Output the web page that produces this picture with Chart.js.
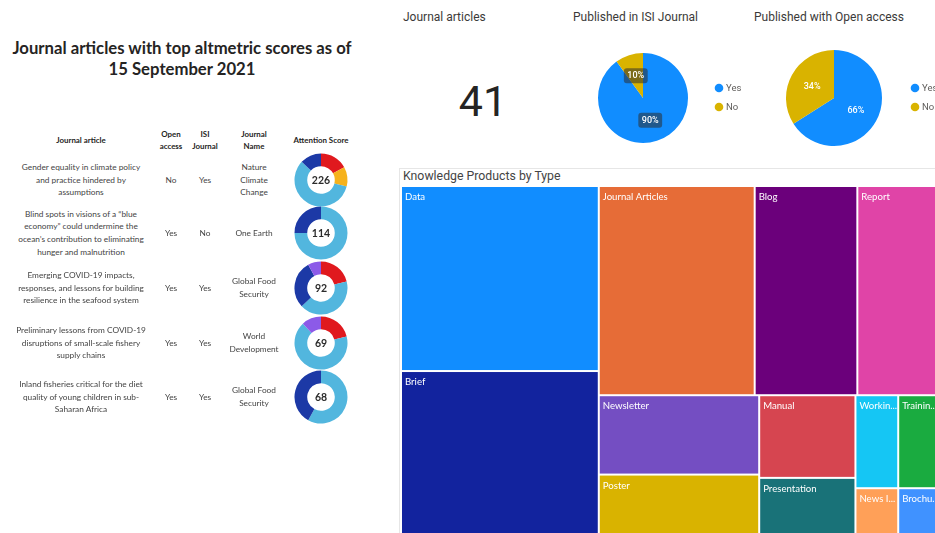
<!DOCTYPE html>
<html><head><meta charset="utf-8">
<script src="https://cdn.jsdelivr.net/npm/chart.js@4.4.0/dist/chart.umd.min.js"></script>
<style>
html,body{margin:0;padding:0;background:#fff;}
body{width:935px;height:533px;overflow:hidden;position:relative;font-family:Lato,"Open Sans",sans-serif;}
.abs{position:absolute;}
.cell{position:absolute;display:flex;align-items:center;justify-content:center;text-align:center;white-space:pre-line;color:#444444;font-size:8.3px;line-height:12.6px;}
.hdr{position:absolute;display:flex;align-items:center;justify-content:center;text-align:center;white-space:pre-line;color:#252423;font-size:7.9px;font-weight:700;line-height:12.5px;}
.ttl{position:absolute;font-family:Roboto,sans-serif;font-size:12px;color:#3b3a39;white-space:nowrap;}
canvas{position:absolute;}
</style></head><body>
<script>
// ---------------- DATA ----------------
const reportTitle = ["Journal articles with top altmetric scores as of", "15 September 2021"];
const tableHeaders = ["Journal article", "Open\naccess", "ISI\nJournal", "Journal\nName", "Attention Score"];
const articleTitles = [
  "Gender equality in climate policy\nand practice hindered by\nassumptions",
  "Blind spots in visions of a \u201cblue\neconomy\u201d could undermine the\nocean\u2019s contribution to eliminating\nhunger and malnutrition",
  "Emerging COVID-19 impacts,\nresponses, and lessons for building\nresilience in the seafood system",
  "Preliminary lessons from COVID-19\ndisruptions of small-scale fishery\nsupply chains",
  "Inland fisheries critical for the diet\nquality of young children in sub-\nSaharan Africa"
];
const openAccess = ["No", "Yes", "Yes", "Yes", "Yes"];
const isiJournal = ["Yes", "No", "Yes", "Yes", "Yes"];
const journalNames = ["Nature\nClimate\nChange", "One Earth", "Global Food\nSecurity", "World\nDevelopment", "Global Food\nSecurity"];
const attentionScores = [226, 114, 92, 69, 68];
// altmetric donut: share of ring per source (clockwise from 12 o'clock)
const sourceNames = ["News", "Blogs", "Twitter", "Facebook", "Policy"];
const newsShare     = [17, 0, 21, 21, 0];
const blogShare     = [12, 0, 0, 0, 0];
const twitterShare  = [58, 75, 42, 67, 58];
const facebookShare = [13, 25, 29, 0, 42];
const policyShare   = [0, 0, 8, 12, 0];

const kpiLabel = "Journal articles";
const kpiValue = 41;
const yesNoLabels = ["Yes", "No"];
const isiTitle = "Published in ISI Journal";
const isiPercent = [90, 10];
const oaTitle = "Published with Open access";
const oaPercent = [66, 34];

const treemapTitle = "Knowledge Products by Type";
const kpTypes = ["Data", "Brief", "Journal Articles", "Blog", "Report", "Newsletter", "Poster", "Manual", "Presentation", "Working Paper", "Training Material", "News Item", "Brochure"];
const kpCounts = [46, 43, 41, 27, 22, 16, 14, 10, 8, 5, 5, 3, 3];

// ---------------- STYLE ----------------
const srcColors = ["#e0191e", "#f6b21c", "#52b6de", "#1c39a6", "#8c5ae8"];
const yesNoColors = ["#118DFF", "#D9B300"];
const kpColors = ["#118DFF", "#12239E", "#E66C37", "#6B007B", "#E044A7", "#744EC2", "#D9B300", "#D64550", "#197278", "#15C6F4", "#1AAB40", "#FFA058", "#4092FF"];

function el(tag, cls, style, text) {
  const e = document.createElement(tag);
  if (cls) e.className = cls;
  Object.assign(e.style, style || {});
  if (text !== undefined) e.textContent = text;
  document.body.appendChild(e);
  return e;
}

// ---------------- LEFT PANEL ----------------
el('div', 'abs', {left: '0px', top: '38px', width: '364px', textAlign: 'center', fontFamily: 'Lato,sans-serif', fontWeight: '700', fontSize: '16.7px', lineHeight: '21px', color: '#252423', whiteSpace: 'pre-line'}, reportTitle.join('\n'));

const colX = [81, 171, 205, 254, 321];
const colW = [160, 40, 36, 64, 80];
tableHeaders.forEach((h, i) => {
  el('div', 'hdr', {left: (colX[i] - colW[i] / 2) + 'px', top: '125px', width: colW[i] + 'px', height: '30px'}, h);
});
const rowY = [180, 233, 288, 343, 397];
const centerTextPlugin = {
  id: 'centerText',
  afterDraw(chart, args, opts) {
    const ctx = chart.ctx, a = chart.chartArea;
    ctx.save();
    ctx.fillStyle = '#2b2b2b';
    ctx.font = 'bold 10.5px Lato';
    ctx.textAlign = 'center'; ctx.textBaseline = 'middle';
    ctx.fillText(String(opts.text), (a.left + a.right) / 2, (a.top + a.bottom) / 2 + 0.5);
    ctx.restore();
  }
};
articleTitles.forEach((t, r) => {
  const y = rowY[r];
  const cols = [t, openAccess[r], isiJournal[r], journalNames[r]];
  cols.forEach((c, i) => {
    el('div', 'cell', {left: (colX[i] - colW[i] / 2) + 'px', top: (y - 30) + 'px', width: colW[i] + 'px', height: '60px'}, c);
  });
  const cv = el('canvas', null, {left: (colX[4] - 28) + 'px', top: (y - 28) + 'px'});
  cv.width = 56; cv.height = 56;
  new Chart(cv, {
    type: 'doughnut',
    data: {labels: sourceNames, datasets: [{data: [newsShare[r], blogShare[r], twitterShare[r], facebookShare[r], policyShare[r]], backgroundColor: srcColors, borderWidth: 0}]},
    options: {responsive: false, animation: false, cutout: '52%', layout: {padding: 1.5},
      plugins: {legend: {display: false}, tooltip: {enabled: false}, centerText: {text: attentionScores[r]}}},
    plugins: [centerTextPlugin]
  });
});

// ---------------- KPI + PIES ----------------
el('div', 'ttl', {left: '403px', top: '10px'}, kpiLabel);
el('div', 'abs', {left: '433px', top: '73px', width: '100px', textAlign: 'center', fontFamily: 'Roboto,sans-serif', fontWeight: '400', fontSize: '43px', lineHeight: '56px', color: '#252423'}, String(kpiValue));
el('div', 'ttl', {left: '573px', top: '10px'}, isiTitle);
el('div', 'ttl', {left: '754px', top: '10px'}, oaTitle);

function roundRect(ctx, x, y, w, h, r) {
  ctx.beginPath();
  ctx.moveTo(x + r, y); ctx.lineTo(x + w - r, y); ctx.quadraticCurveTo(x + w, y, x + w, y + r);
  ctx.lineTo(x + w, y + h - r); ctx.quadraticCurveTo(x + w, y + h, x + w - r, y + h);
  ctx.lineTo(x + r, y + h); ctx.quadraticCurveTo(x, y + h, x, y + h - r);
  ctx.lineTo(x, y + r); ctx.quadraticCurveTo(x, y, x + r, y); ctx.closePath();
}
const pieLabelPlugin = {
  id: 'pieLabels',
  afterDatasetsDraw(chart, args, opts) {
    const ctx = chart.ctx, meta = chart.getDatasetMeta(0), vals = chart.data.datasets[0].data;
    ctx.save();
    ctx.font = '500 9px Roboto'; ctx.textAlign = 'center'; ctx.textBaseline = 'middle';
    meta.data.forEach((arc, i) => {
      const mid = (arc.startAngle + arc.endAngle) / 2, rr = arc.outerRadius * opts.pos;
      const x = arc.x + Math.cos(mid) * rr, y = arc.y + Math.sin(mid) * rr;
      const t = vals[i] + '%';
      if (opts.bg) {
        const w = ctx.measureText(t).width + 7;
        ctx.fillStyle = opts.bg; roundRect(ctx, x - w / 2, y - 7.5, w, 15, 3); ctx.fill();
      }
      ctx.fillStyle = '#ffffff'; ctx.fillText(t, x, y + 0.5);
    });
    ctx.restore();
  }
};
const sideLegendPlugin = {
  id: 'sideLegend',
  afterDraw(chart, args, opts) {
    const ctx = chart.ctx, cols = chart.data.datasets[0].backgroundColor;
    ctx.save();
    chart.data.labels.forEach((l, i) => {
      const y = opts.y + i * opts.gap;
      ctx.fillStyle = cols[i]; ctx.beginPath(); ctx.arc(opts.x, y, 4.3, 0, Math.PI * 2); ctx.fill();
      ctx.fillStyle = '#605E5C'; ctx.font = '9.5px Roboto'; ctx.textBaseline = 'middle'; ctx.textAlign = 'left';
      ctx.fillText(l, opts.x + 7, y + 0.5);
    });
    ctx.restore();
  }
};
function makePie(left, top, w, h, pad, values, legend, bg) {
  const cv = el('canvas', null, {left: left + 'px', top: top + 'px'});
  cv.width = w; cv.height = h;
  new Chart(cv, {
    type: 'pie',
    data: {labels: yesNoLabels, datasets: [{data: values, backgroundColor: yesNoColors, borderWidth: 0}]},
    options: {responsive: false, animation: false, layout: {padding: pad},
      plugins: {legend: {display: false}, tooltip: {enabled: false}, pieLabels: {pos: 0.52, bg: bg}, sideLegend: legend}},
    plugins: [pieLabelPlugin, sideLegendPlugin]
  });
}
makePie(590, 45, 170, 110, {left: 7, right: 71, top: 8, bottom: 12}, isiPercent, {x: 129, y: 43, gap: 19}, 'rgba(45,45,45,0.55)');
makePie(780, 45, 170, 110, {left: 6, right: 68, top: 5, bottom: 9}, oaPercent, {x: 135, y: 43, gap: 19}, null);

// ---------------- TREEMAP ----------------
el('div', 'abs', {left: '399px', top: '168px', width: '600px', height: '400px', borderTop: '1px solid #e6e6e6', borderLeft: '1px solid #e6e6e6'});
el('div', 'ttl', {left: '403px', top: '169px', fontSize: '12.3px', color: '#444'}, treemapTitle);

function squarify(values, x0, y0, x1, y1, ratio) {
  const rects = []; const n = values.length;
  let value = values.reduce((a, b) => a + b, 0), i0 = 0;
  while (i0 < n) {
    const dx = x1 - x0, dy = y1 - y0;
    let i1 = i0, sum = values[i1++], minV = sum, maxV = sum;
    const alpha = Math.max(dy / dx, dx / dy) / (value * ratio);
    let beta = sum * sum * alpha, minRatio = Math.max(maxV / beta, beta / minV);
    for (; i1 < n; i1++) {
      const v = values[i1], s = sum + v, mn = Math.min(minV, v), mx = Math.max(maxV, v);
      beta = s * s * alpha;
      const nr = Math.max(mx / beta, beta / mn);
      if (nr > minRatio) break;
      minRatio = nr; sum = s; minV = mn; maxV = mx;
    }
    if (dx < dy) {
      const h = dy * sum / value; let x = x0;
      for (let k = i0; k < i1; k++) { const w = dx * values[k] / sum; rects[k] = {x0: x, y0: y0, x1: x + w, y1: y0 + h}; x += w; }
      y0 += h;
    } else {
      const w = dx * sum / value; let y = y0;
      for (let k = i0; k < i1; k++) { const h = dy * values[k] / sum; rects[k] = {x0: x0, y0: y, x1: x0 + w, y1: y + h}; y += h; }
      x0 += w;
    }
    value -= sum; i0 = i1;
  }
  return rects;
}
const TW = 540, TH = 358;
const treemapPlugin = {
  id: 'treemapCells',
  afterDatasetsDraw(chart) {
    const ctx = chart.ctx, xs = chart.scales.x, ys = chart.scales.y;
    const rects = squarify(kpCounts, xs.min, ys.min, xs.max, ys.max, 1.45);
    ctx.save();
    ctx.font = '9.6px Lato';
    ctx.textBaseline = 'middle';
    rects.forEach((r, i) => {
      const px0 = xs.getPixelForValue(r.x0), px1 = xs.getPixelForValue(r.x1);
      const py0 = ys.getPixelForValue(r.y0), py1 = ys.getPixelForValue(r.y1);
      ctx.fillStyle = kpColors[i % kpColors.length];
      ctx.fillRect(px0 + 1, py0 + 1, px1 - px0 - 2, py1 - py0 - 2);
      let label = kpTypes[i];
      const avail = px1 - px0 - 5;
      if (ctx.measureText(label).width > avail) {
        let k = label.length;
        while (k > 1 && ctx.measureText(label.slice(0, k) + '...').width > avail) k--;
        label = label.slice(0, k) + '...';
      }
      ctx.fillStyle = '#ffffff';
      ctx.fillText(label, px0 + 4, py0 + 11);
    });
    ctx.restore();
  }
};
const tcv = el('canvas', null, {left: '401px', top: '186px'});
tcv.width = TW; tcv.height = TH;
new Chart(tcv, {
  type: 'scatter',
  data: {datasets: [{data: [], pointRadius: 0}]},
  options: {responsive: false, animation: false, layout: {padding: 0},
    scales: {x: {type: 'linear', min: 0, max: TW, display: false}, y: {type: 'linear', min: 0, max: TH, reverse: true, display: false}},
    plugins: {legend: {display: false}, tooltip: {enabled: false}}},
  plugins: [treemapPlugin]
});
</script>
</body></html>
